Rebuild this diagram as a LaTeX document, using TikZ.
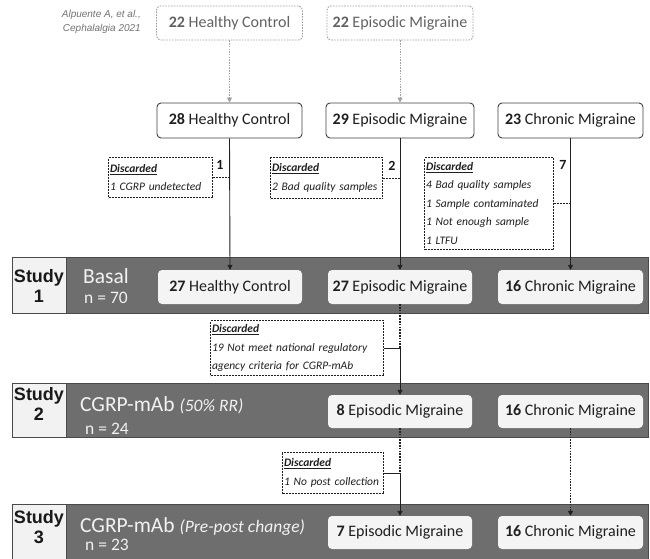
\documentclass[tikz,border=0pt]{standalone}
\usepackage{fontspec}
\setmainfont{Carlito}
\newfontfamily\arialfont{Liberation Sans}
\usetikzlibrary{arrows.meta}
\definecolor{bandfill}{HTML}{6E6E6E}
\definecolor{bandline}{HTML}{4A4A4A}
\definecolor{studyfill}{HTML}{F2F2F2}
\definecolor{innerfill}{HTML}{F4F4F4}
\definecolor{topgray}{HTML}{A0A0A0}
\definecolor{toptext}{HTML}{626262}
\definecolor{rowline}{HTML}{404040}
\definecolor{darkline}{HTML}{202020}
\definecolor{bandtext}{HTML}{F2F2F2}
\tikzset{
  topbox/.style={draw=topgray, dash pattern=on 1.6pt off 1.2pt, line width=0.9pt, rounded corners=4pt,
    minimum height=34pt, inner sep=0pt, text=toptext, font=\fontsize{16}{19}\selectfont},
  rowbox/.style={draw=rowline, line width=0.9pt, rounded corners=4pt, fill=white,
    minimum height=35pt, inner sep=0pt, text=black!88, font=\fontsize{16}{19}\selectfont},
  inbox/.style={fill=innerfill, rounded corners=4pt, minimum height=34pt, inner sep=0pt,
    text=black!88, font=\fontsize{16}{19}\selectfont},
  discbox/.style={draw=darkline, dash pattern=on 2pt off 1pt, line width=1pt, anchor=north west,
    align=left, inner xsep=1.5pt, inner ysep=0pt, text=black!88,
    font=\fontsize{11.5}{18.5}\selectfont\itshape},
  numlabel/.style={font=\fontsize{14}{16}\selectfont\bfseries, text=black!90, inner sep=0pt},
  bandtitle/.style={anchor=base west, inner sep=0pt, text=bandtext, font=\fontsize{21.5}{24}\selectfont},
  bandn/.style={anchor=base west, inner sep=0pt, text=bandtext, font=\fontsize{17.5}{20}\selectfont},
  studytext/.style={align=center, inner sep=0pt, text=black!90,
    font=\arialfont\bfseries\fontsize{18}{20}\selectfont},
  toparrow/.style={draw=topgray, line width=0.9pt, dash pattern=on 1.5pt off 1.2pt,
    -{Triangle[length=5pt,width=5pt]}},
  solidarrow/.style={draw=darkline, line width=0.9pt, -{Triangle[length=5pt,width=5pt]}},
  dotline/.style={draw=darkline, line width=1.2pt, dash pattern=on 1.5pt off 1.3pt},
  dotarrow/.style={dotline, -{Triangle[length=5pt,width=5pt]}},
  dashlink/.style={draw=darkline, line width=1pt, dash pattern=on 2pt off 1pt},
  solidlink/.style={draw=darkline, line width=0.9pt}
}
\begin{document}
\begin{tikzpicture}[x=1pt,y=-1pt]
\useasboundingbox (0,0) rectangle (650,559);
\clip (0,0) rectangle (650,559);

% citation
\node[anchor=east, align=right, inner sep=0pt, text=toptext!90,
  font=\arialfont\itshape\fontsize{10}{14}\selectfont] (cite) at (141,22)
  {Alpuente A, et al.,\\Cephalalgia 2021};

% top dashed boxes
\node[topbox, minimum width=146pt] (top1) at (229.5,23) {\textbf{22} Healthy Control};
\node[topbox, minimum width=146pt] (top2) at (400,23) {\textbf{22} Episodic Migraine};

% second row
\node[rowbox, minimum width=145pt] (r1) at (229.5,120.5) {\textbf{28} Healthy Control};
\node[rowbox, minimum width=148pt] (r2) at (400,120.5) {\textbf{29} Episodic Migraine};
\node[rowbox, minimum width=145pt] (r3) at (570.5,120.5) {\textbf{23} Chronic Migraine};

\draw[toparrow] (top1.south) -- (r1.north);
\draw[toparrow] (top2.south) -- (r2.north);

% bands
\draw[fill=bandfill, draw=bandline, line width=0.8pt] (12,257) rectangle (648,313);
\draw[fill=studyfill, draw=bandline, line width=0.8pt] (12,257) rectangle (66,313);
\draw[fill=bandfill, draw=bandline, line width=0.8pt] (12,383) rectangle (648,437);
\draw[fill=studyfill, draw=bandline, line width=0.8pt] (12,383) rectangle (66,437);
\draw[fill=bandfill, draw=bandline, line width=0.8pt] (12,504) rectangle (648,565);
\draw[fill=studyfill, draw=bandline, line width=0.8pt] (12,504) rectangle (66,565);

% study labels
\node[studytext] (s1) at (39,286) {Study\\1};
\node[studytext] (s2) at (39,404) {Study\\2};
\node[studytext] (s3) at (39,527) {Study\\3};

% band titles
\node[bandtitle] (basal) at (83,283) {Basal};
\node[bandn] (n70) at (84,303) {n = 70};
\node[bandtitle] (cg2) at (80,411) {CGRP-mAb {\fontsize{17.5}{20}\selectfont\itshape (50\% RR)}};
\node[bandn] (n24) at (85,434) {n = 24};
\node[bandtitle] (cg3) at (80,532) {CGRP-mAb {\fontsize{17.5}{20}\selectfont\itshape (Pre-post change)}};
\node[bandn] (n23) at (85,550) {n = 23};

% band inner boxes
\node[inbox, minimum width=144pt] (b1hc) at (230,287) {\textbf{27} Healthy Control};
\node[inbox, minimum width=144pt] (b1em) at (400,287) {\textbf{27} Episodic Migraine};
\node[inbox, minimum width=145pt] (b1cm) at (570.5,287) {\textbf{16} Chronic Migraine};
\node[inbox, minimum width=144pt, minimum height=33pt] (b2em) at (400,411.5) {\textbf{8} Episodic Migraine};
\node[inbox, minimum width=145pt, minimum height=33pt] (b2cm) at (570.5,411.5) {\textbf{16} Chronic Migraine};
\node[inbox, minimum width=144pt, minimum height=33pt] (b3em) at (400,532.5) {\textbf{7} Episodic Migraine};
\node[inbox, minimum width=145pt, minimum height=33pt] (b3cm) at (570.5,532.5) {\textbf{16} Chronic Migraine};

% discard boxes (study 1)
\node[discbox, text width=101pt, minimum height=40pt] (d1) at (108,157)
  {\underline{\textbf{Discarded}}\\1 CGRP undetected};
\node[discbox, text width=109pt, minimum height=41pt] (d2) at (270,157)
  {\underline{\textbf{Discarded}}\\2 Bad quality samples};
\node[discbox, text width=126pt, minimum height=92pt] (d3) at (424,157)
  {\underline{\textbf{Discarded}}\\4 Bad quality samples\\1 Sample contaminated\\1 Not enough sample\\1 LTFU};
\node[numlabel] (l1) at (220,165) {1};
\node[numlabel] (l2) at (392,166) {2};
\node[numlabel] (l7) at (563,165) {7};

\draw[solidarrow] (r1.south) -- (b1hc.north);
\draw[solidarrow] (r2.south) -- (b1em.north);
\draw[solidarrow] (r3.south) -- (b1cm.north);
\draw[dashlink] (d1.east) -- (d1.east -| r1.south);
\draw[dashlink] (d2.east) -- (d2.east -| r2.south);
\draw[dashlink] (d3.east) -- (d3.east -| r3.south);

% study 1 -> study 2
\node[discbox, text width=170pt, minimum height=55pt] (d4) at (210,320)
  {\underline{\textbf{Discarded}}\\19 Not meet national regulatory\\agency criteria for CGRP-mAb};
\coordinate (j1) at (d4.east -| b1em.south);
\draw[dotline] (b1em.south) -- (j1);
\draw[solidarrow] (j1) -- (b2em.north);
\draw[solidlink] (d4.east) -- (j1);

% study 2 -> study 3
\node[discbox, text width=98pt, minimum height=41pt] (d5) at (282,452)
  {\underline{\textbf{Discarded}}\\1 No post collection};
\coordinate (j2) at (d5.east -| b2em.south);
\draw[dotline] (b2em.south) -- (j2);
\draw[solidarrow] (j2) -- (b3em.north);
\draw[solidlink] (d5.east) -- (j2);
\draw[dotarrow] (b2cm.south) -- (b3cm.north);

\end{tikzpicture}
\end{document}
